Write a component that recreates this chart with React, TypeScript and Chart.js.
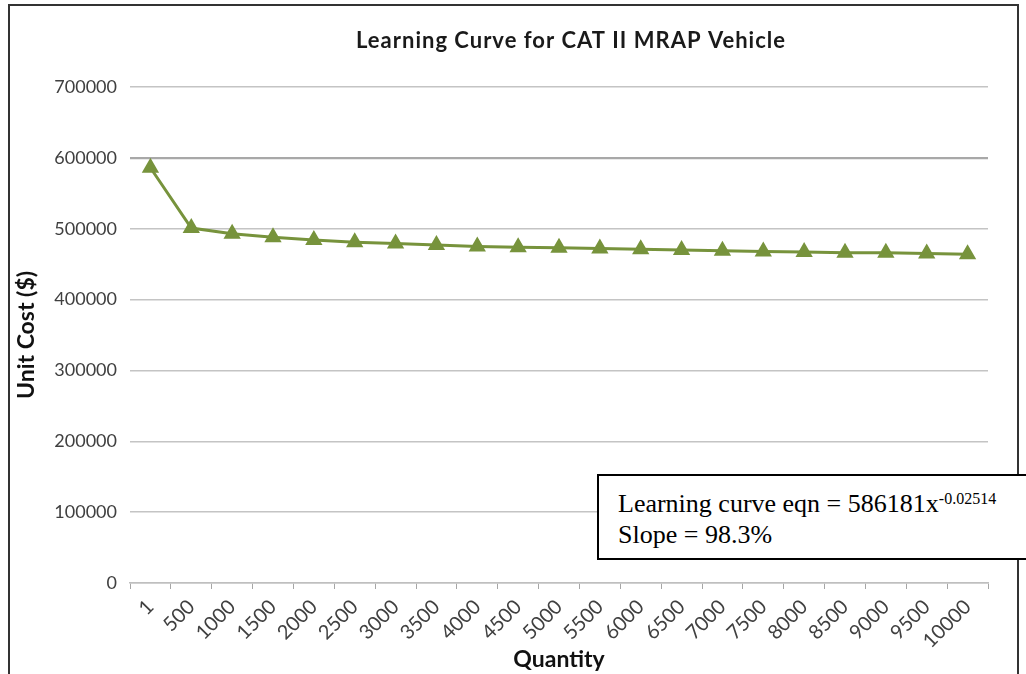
import React, { useEffect, useRef } from "react";
import { Chart, registerables } from "chart.js";

Chart.register(...registerables);

const categories = [
  "1", "500", "1000", "1500", "2000", "2500", "3000", "3500", "4000", "4500",
  "5000", "5500", "6000", "6500", "7000", "7500", "8000", "8500", "9000", "9500", "10000",
];
const unitCost = [
  586000, 501000, 493000, 488000, 484000, 481000, 479000, 477000, 475000, 474000,
  473000, 472000, 471000, 470000, 469000, 468000, 467000, 466000, 466000, 465000, 464000,
];
const yTicks = [0, 100000, 200000, 300000, 400000, 500000, 600000, 700000];

const chartTitle = "Learning Curve for CAT II MRAP Vehicle";
const xTitle = "Quantity";
const yTitle = "Unit Cost ($)";

const titlePlugin = {
  id: "customTitle",
  afterDraw(chart: any) {
    const ctx = chart.ctx;
    ctx.save();
    ctx.font = "bold 22px Lato";
    try {
      (ctx as any).letterSpacing = "1px";
    } catch (e) {}
    ctx.fillStyle = "#1a1a1a";
    ctx.textAlign = "center";
    ctx.textBaseline = "middle";
    ctx.fillText(chartTitle, 571, 41);
    ctx.restore();
  },
};

export default function App() {
  const ref = useRef<HTMLCanvasElement | null>(null);

  useEffect(() => {
    if (!ref.current) return;
    const chart = new Chart(ref.current, {
      type: "line",
      data: {
        labels: categories,
        datasets: [
          {
            data: unitCost,
            borderColor: "#77933C",
            backgroundColor: "#77933C",
            borderWidth: 3,
            pointStyle: "triangle",
            pointRadius: 7,
            pointBackgroundColor: "#77933C",
            pointBorderColor: "#77933C",
            tension: 0,
          },
        ],
      },
      options: {
        responsive: false,
        animation: false,
        devicePixelRatio: 1,
        layout: { padding: { left: 0, right: 38, top: 87, bottom: 0 } },
        plugins: {
          legend: { display: false },
          title: { display: false },
          tooltip: { enabled: false },
        },
        scales: {
          x: {
            offset: true,
            grid: {
              offset: true,
              drawOnChartArea: false,
              drawTicks: true,
              tickLength: 6,
              tickColor: "#A6A6A6",
            },
            border: { display: true, color: "#BFBFBF", width: 1.5 },
            ticks: {
              autoSkip: false,
              maxRotation: 45,
              minRotation: 45,
              padding: 6,
              color: "#404040",
              font: { family: "Lato", size: 20 },
            },
            title: {
              display: true,
              text: xTitle,
              color: "#111",
              font: { family: "Lato", size: 23, weight: "bold" },
              padding: { top: 0, bottom: 1 },
            },
            afterFit: (s: any) => {
              s.height = 91;
            },
          },
          y: {
            min: 0,
            max: 700000,
            afterBuildTicks: (s: any) => {
              s.ticks = yTicks.map((v) => ({ value: v }));
            },
            grid: {
              drawTicks: false,
              color: (c: any) => (c.tick && c.tick.value === 600000 ? "#A8A8A8" : "#C4C4C4"),
              lineWidth: (c: any) => (c.tick && c.tick.value === 600000 ? 2.2 : 1.5),
            },
            border: { display: false },
            ticks: {
              padding: 13,
              color: "#404040",
              font: { family: "Lato", size: 18 },
              callback: (v: any) => String(v),
            },
            title: {
              display: true,
              text: yTitle,
              color: "#111",
              font: { family: "Lato", size: 23, weight: "bold" },
              padding: { top: 13, bottom: 0 },
            },
            afterFit: (s: any) => {
              s.width = 130;
            },
          },
        },
      },
      plugins: [titlePlugin],
    });
    return () => chart.destroy();
  }, []);

  return (
    <div
      style={{
        position: "fixed",
        left: 0,
        top: 0,
        width: 1026,
        height: 674,
        overflow: "hidden",
        background: "#fff",
      }}
    >
      <div
        style={{
          position: "absolute",
          left: 8,
          top: 4,
          width: 1011,
          height: 740,
          border: "2px solid #333",
          boxSizing: "border-box",
          background: "#fff",
        }}
      />
      <canvas
        ref={ref}
        width={1026}
        height={674}
        style={{ position: "absolute", left: 0, top: 0, width: 1026, height: 674 }}
      />
      <div
        style={{
          position: "absolute",
          left: 597,
          top: 474,
          width: 460,
          height: 86,
          border: "2px solid #000",
          boxSizing: "border-box",
          background: "#fff",
          fontFamily: "'Liberation Serif', 'Times New Roman', serif",
          fontSize: 26,
          lineHeight: "31px",
          padding: "12px 0 0 19px",
          color: "#000",
          whiteSpace: "nowrap",
        }}
      >
        <div>
          Learning curve eqn = 586181x
          <sup
            style={{
              fontSize: 16,
              verticalAlign: "top",
              lineHeight: "16px",
              position: "relative",
              top: 3,
            }}
          >
            -0.02514
          </sup>
        </div>
        <div>Slope = 98.3%</div>
      </div>
    </div>
  );
}
